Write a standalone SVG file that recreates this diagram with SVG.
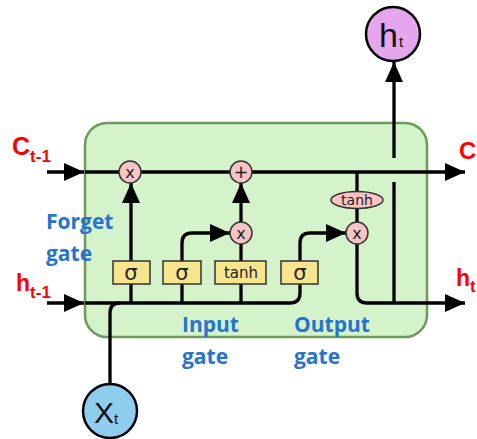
<svg xmlns="http://www.w3.org/2000/svg" width="477" height="439" viewBox="0 0 477 439">
<style>
.ln{fill:none;stroke:#000;stroke-width:3.3}
.op{fill:#f9c4c6;stroke:#333;stroke-width:1.5}
.gt{fill:#f7e58e;stroke:#333;stroke-width:1.5}
.sym{font-family:"DejaVu Sans","Open Sans",sans-serif;fill:#222;text-anchor:middle}
.red{font-family:"Liberation Sans",Arial,sans-serif;font-weight:bold;fill:#ff0000}
.blue{font-family:"Open Sans","Liberation Sans",sans-serif;font-weight:bold;fill:#2673d0;font-size:21px}
</style>
<defs>
<marker id="arr" viewBox="0 0 20 18" refX="20" refY="9" markerWidth="20" markerHeight="19" markerUnits="userSpaceOnUse" orient="auto">
<path d="M0,0 L20,9 L0,18 Z" fill="#000"/>
</marker>
</defs>
<rect id="cell" x="85" y="123" width="342" height="214" rx="22" fill="#d5f3cb" stroke="#6b9a5c" stroke-width="2.5"/>
<g id="connectors">
<path class="ln" d="M47,172 H84" marker-end="url(#arr)"/>
<path class="ln" d="M85,172 H465" marker-end="url(#arr)"/>
<path class="ln" d="M47,303 H84" marker-end="url(#arr)"/>
<path class="ln" d="M85,303 H290 Q300,303 300,293 V284"/>
<path class="ln" d="M110,385 V313 Q110,303 120,303"/>
<path class="ln" d="M131,303 V284 M182,303 V284 M241,303 V284"/>
<path class="ln" d="M131,261 V183" marker-end="url(#arr)"/>
<path class="ln" d="M182,261 V243 Q182,233 192,233 H230" marker-end="url(#arr)"/>
<path class="ln" d="M241,261 V244"/>
<path class="ln" d="M241,222 V183" marker-end="url(#arr)"/>
<path class="ln" d="M300,261 V243 Q300,233 310,233 H346" marker-end="url(#arr)"/>
<path class="ln" d="M357,172 V193 M357,207 V222"/>
<path class="ln" d="M357,244 V293 Q357,303 367,303 H465" marker-end="url(#arr)"/>
<path class="ln" d="M394,303 V182"/>
<path class="ln" d="M394,158 V62" marker-end="url(#arr)"/>
</g>
<g id="forget-mul"><circle class="op" cx="130" cy="172" r="11"/><text class="sym" x="130" y="177.5" font-size="16">x</text></g>
<g id="add"><circle class="op" cx="241" cy="172" r="11"/><text class="sym" x="241" y="178" font-size="18">+</text></g>
<g id="input-mul"><circle class="op" cx="241" cy="233" r="11"/><text class="sym" x="241" y="238.5" font-size="16">x</text></g>
<g id="output-mul"><circle class="op" cx="357" cy="233" r="11"/><text class="sym" x="357" y="238.5" font-size="16">x</text></g>
<g id="out-tanh"><ellipse class="op" cx="357" cy="200" rx="26" ry="8.5"/><text class="sym" x="357" y="205" font-size="14">tanh</text></g>
<g id="forget-sigma"><rect class="gt" x="113" y="261" width="37" height="23"/><text class="sym" x="131" y="280" font-size="21">σ</text></g>
<g id="input-sigma"><rect class="gt" x="163" y="261" width="38" height="23"/><text class="sym" x="182" y="280" font-size="21">σ</text></g>
<g id="input-tanh"><rect class="gt" x="215" y="261" width="51" height="23"/><text class="sym" x="241" y="278" font-size="15">tanh</text></g>
<g id="output-sigma"><rect class="gt" x="281" y="261" width="37" height="23"/><text class="sym" x="300" y="280" font-size="21">σ</text></g>
<g id="ht-node"><circle cx="393" cy="34" r="27" fill="#e5a6ee" stroke="#000" stroke-width="2.5"/><text x="379" y="47" font-family="Liberation Sans,Arial,sans-serif" font-size="34" fill="#111">h</text><text x="399" y="47" font-family="Liberation Sans,Arial,sans-serif" font-size="15" fill="#111">t</text></g>
<g id="xt-node"><circle cx="110" cy="411" r="27" fill="#8fcdef" stroke="#000" stroke-width="2.5"/><text x="94" y="423" font-family="Liberation Sans,Arial,sans-serif" font-size="30" fill="#111">X</text><text x="114" y="424" font-family="Liberation Sans,Arial,sans-serif" font-size="15" fill="#111">t</text></g>
<g id="labels">
<text class="red" x="12" y="155" font-size="25">C<tspan font-size="17" dy="7">t-1</tspan></text>
<text class="red" x="16" y="291" font-size="23">h<tspan font-size="17" dy="7">t-1</tspan></text>
<text class="red" x="459" y="159" font-size="24">C</text>
<text class="red" x="456" y="286" font-size="23">h<tspan font-size="17" dy="6">t</tspan></text>
<text class="blue" x="46" y="229">Forget</text>
<text class="blue" x="46" y="261">gate</text>
<text class="blue" x="182" y="332">Input</text>
<text class="blue" x="182" y="364">gate</text>
<text class="blue" x="294" y="332">Output</text>
<text class="blue" x="294" y="364">gate</text>
</g>
</svg>
